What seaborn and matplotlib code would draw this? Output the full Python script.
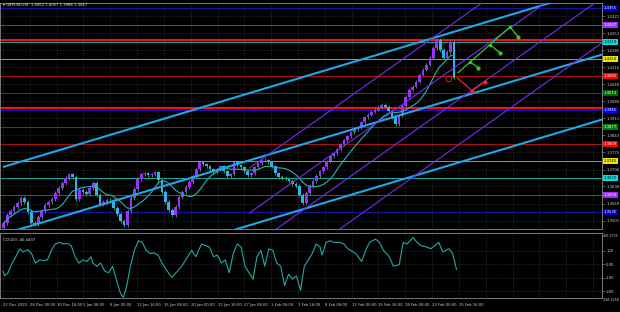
import numpy as np
import pandas as pd
import matplotlib
matplotlib.use("Agg")
import matplotlib.pyplot as plt
import seaborn as sns

# ---------------- data ----------------
title_text = "GBPUSD,H4  1.4062 1.4067 1.3988 1.4047"
cci_title = "CCI(20) -40.4437"

# closes of 8-hour candles (each = 2 H4 bars)
closes = [1.3491, 1.3523, 1.3539, 1.3555, 1.3571, 1.3591, 1.3575, 1.3535, 1.3491, 1.3487,
          1.3515, 1.3539, 1.3563, 1.3575, 1.3587, 1.3611, 1.3631, 1.3651, 1.3671, 1.3687,
          1.3675, 1.3587, 1.3623, 1.3615, 1.3607, 1.3631, 1.3651, 1.3603, 1.3567, 1.3575,
          1.3583, 1.3583, 1.3551, 1.3527, 1.3499, 1.3483, 1.3539, 1.3591, 1.3627, 1.3667,
          1.3687, 1.3691, 1.3683, 1.3687, 1.3695, 1.3663, 1.3615, 1.3575, 1.3543, 1.3523,
          1.3555, 1.3595, 1.3615, 1.3635, 1.3655, 1.3679, 1.3707, 1.3735, 1.3727, 1.3719,
          1.3707, 1.3695, 1.3707, 1.3719, 1.3699, 1.3679, 1.3687, 1.3735, 1.3723, 1.3715,
          1.3699, 1.3683, 1.3691, 1.3715, 1.3731, 1.3743, 1.3743, 1.3735, 1.3719, 1.3691,
          1.3675, 1.3671, 1.3667, 1.3659, 1.3647, 1.3639, 1.3603, 1.3571, 1.3611, 1.3639,
          1.3659, 1.3679, 1.3699, 1.3715, 1.3739, 1.3759, 1.3771, 1.3787, 1.3807, 1.3823,
          1.3839, 1.3855, 1.3867, 1.3875, 1.3895, 1.3915, 1.3927, 1.3939, 1.3947, 1.3955,
          1.3967, 1.3959, 1.3943, 1.3915, 1.3887, 1.3923, 1.3963, 1.3999, 1.4027, 1.4039,
          1.4059, 1.4087, 1.4107, 1.4127, 1.4155, 1.4195, 1.4227, 1.4187, 1.4155, 1.4179,
          1.4219, 1.4075]
first_open = 1.3470
bars_per_candle = 2.05

# CCI values (bar, value)
cci_bar = [0, 1, 3, 5, 7.6, 10, 12, 14.7, 17, 19.4, 21.8, 24, 26.5, 28.9, 31.2, 33.6, 36, 38.3, 40.7, 43,
           45.4, 47.7, 50, 52.5, 53.6, 56, 58.3, 60.7, 63, 65.4, 67.8, 70.1, 71.8, 73.7, 76, 78.4, 80.8,
           83.1, 85.5, 87.8, 90.2, 92.5, 94.9, 97.3, 100.8, 103.2, 106.7, 109, 112.6, 115, 118.5, 120.8,
           123.2, 125.6, 127.9, 130.3, 132.6, 135, 137.4, 139.7, 142.1, 144.4, 149.2, 151.5, 153.9, 156.2,
           158.6, 161, 163.3, 165.7, 168, 170.4, 172.7, 175.1, 177.5, 179.8, 182.2, 184.5, 186.9, 189.2,
           190.4, 192.8, 195.1, 197.5, 201, 203.4, 205.8, 210.5, 214, 216.4, 218.7, 222.3, 224.6, 227,
           230.5, 232.9, 236.4, 238.8, 241.1, 244.7, 247, 249.4, 252.9, 255.3, 257.6, 260, 262.4, 265.9,
           268.3, 270.6]
cci_val = [-52, -87, -64, -5, 54, 113, 89, 106, 78, 7, 31, 26, 31, 101, 148, 160, 148, 153, 136, 54,
           7, 31, 19, 54, 7, -16, 7, -52, -64, -16, -122, -216, -245, -169, -16, 101, 172,
           160, 101, 78, 82, 66, 7, -40, -99, -64, -16, 31, 101, 54, 148, 136,
           125, 54, 66, 7, 31, -64, 78, 148, 125, -16, -111, 54, 101, -16,
           113, 101, 7, -16, -158, -75, -111, -87, -193, -16, 31, 78, 148, 125,
           66, 160, 172, 160, 160, 148, 113, 78, 19, 101, 160, 184, 160, 101,
           54, -16, -5, 160, 148, 195, 160, 136, 125, 113, 136, 160, 89, 113,
           78, -40]

# time labels every 16 H4 bars
date_labels = ["22 Dec 2020", "28 Dec 00:00", "30 Dec 16:00", "5 Jan 08:00", "8 Jan 00:00",
               "12 Jan 16:00", "15 Jan 08:00", "20 Jan 00:00", "22 Jan 16:00", "27 Jan 08:00",
               "1 Feb 00:00", "3 Feb 16:00", "8 Feb 08:00", "11 Feb 00:00", "15 Feb 16:00",
               "18 Feb 08:00", "23 Feb 00:00", "25 Feb 16:00"]
bars_per_label = 16

# Murrey-style horizontal levels
mm_prices = [1.4355, 1.4287, 1.4219, 1.4150, 1.4082, 1.4014, 1.3945,
             1.3877, 1.3809, 1.3740, 1.3672, 1.3604, 1.3535]
mm_line_colors = ["#1414a0", "#7a28d8", "#13a8a8", "#a8a800", "#b01010", "#0a6a0a", "#1a1ad0",
                  "#0a6a0a", "#b01010", "#a8a800", "#13a8a8", "#7a28d8", "#1414a0"]
mm_box_colors = ["#0000c8", "#9a30ff", "#00e0e0", "#e8e800", "#ff0000", "#006400", "#0000ff",
                 "#008000", "#ff0000", "#e8e800", "#00e0e0", "#9a30ff", "#0000c8"]
mm_text_colors = ["#ffffff", "#ffffff", "#000000", "#000000", "#ffffff", "#ffffff", "#ffffff",
                  "#ffffff", "#ffffff", "#000000", "#000000", "#ffffff", "#ffffff"]
red_levels = [1.4228, 1.3953]

# trend channel lines (bar, price) pairs
blue_lines = [((0, 1.3716), (360, 1.4443)),
              ((0, 1.3446), (360, 1.4173)),
              ((0, 1.3185), (360, 1.3912))]
purple_slope = 0.000478
purple_start = 147
purple_prices_at_start = [1.3712, 1.3531, 1.3390, 1.3209]

# forecast paths (bar, price)
green_main = ([271.5, 302.5], [1.4095, 1.4279])
green_branches = [([278.6, 283.4], [1.4139, 1.4115]),
                  ([290.6, 296.5], [1.4207, 1.4175]),
                  ([302.5, 307.3], [1.4279, 1.4239])]
red_path = ([270.9, 279.8, 287.6], [1.4075, 1.4023, 1.4059])
red_marker = (266, 1.4070)

price_ticks = [1.4321, 1.4253, 1.4185, 1.4116, 1.4048, 1.3980, 1.3911,
               1.3843, 1.3775, 1.3706, 1.3638, 1.3569, 1.3501]
cci_ticks = [100, 0, -100, -200]
cci_tick_labels = ["100", "0.00", "-100", "-200"]
cci_max_label = "266.5735"
cci_min_label = "-298.1558"

# ---------------- styling ----------------
sns.set_theme(style="dark")
plt.rcParams['font.family'] = ['DejaVu Sans']
BG = "#000000"
GRID = "#3c3c3c"
FS = 2.7
TXT = "#d0d0d0"

W, H = 620, 312
fig = plt.figure(figsize=(6.2, 3.12), dpi=100, facecolor=BG)
ax = fig.add_axes([0, 1 - 229 / H, 602 / W, 226 / H])
ax2 = fig.add_axes([0, 1 - 298 / H, 602 / W, 65 / H])

px_per_bar = 1.676
x0 = -3 / px_per_bar
x1 = (602 - 3) / px_per_bar
for a in (ax, ax2):
    a.set_facecolor(BG)
    a.set_xlim(x0, x1)
    for s in a.spines.values():
        s.set_color("#8c8c8c")
        s.set_linewidth(0.6)
    a.grid(False)
    for j in range(len(date_labels) + 5):
        a.axvline(j * bars_per_label, color=GRID, lw=0.5, ls=(0, (1, 1.5)), zorder=0)

ax.set_ylim(1.3467, 1.4375)

# horizontal grid
for p in price_ticks:
    ax.axhline(p, color=GRID, lw=0.5, ls=(0, (1, 1.5)), zorder=0)

# Murrey levels
for p, c in zip(mm_prices, mm_line_colors):
    ax.axhline(p, color=c, lw=0.7, zorder=1)
for p in red_levels:
    ax.axhline(p, color="#ff1010", lw=1.5, zorder=2)

# candles
df = pd.DataFrame({"close": closes})
df["open"] = df["close"].shift(1).fillna(first_open)
df["bar"] = 0.5 + bars_per_candle * np.arange(len(df))
up = df["close"] >= df["open"]
body_lo = np.minimum(df["open"], df["close"])
body_h = np.maximum(np.abs(df["close"] - df["open"]), 0.00025)
wick = 0.0007
ax.vlines(df["bar"], body_lo - wick, body_lo + body_h + wick, color="#2fbf3a", lw=0.6, zorder=3)
ax.bar(df["bar"][up], body_h[up], bottom=body_lo[up], width=1.6, color="#9b30ff", lw=0, zorder=4)
ax.bar(df["bar"][~up], body_h[~up], bottom=body_lo[~up], width=1.6, color="#2fb3ea", lw=0, zorder=4)

# moving average
df["ma"] = df["close"].rolling(10, min_periods=1).mean()
sns.lineplot(data=df, x="bar", y="ma", ax=ax, color="#27b5b0", lw=0.8, zorder=5, legend=False)

# channels
for (xa, ya), (xb, yb) in blue_lines:
    ax.plot([xa, xb], [ya, yb], color="#1fa8e8", lw=1.5, zorder=6, solid_capstyle="butt")
for p0 in purple_prices_at_start:
    ax.plot([purple_start, 400], [p0, p0 + purple_slope * (400 - purple_start)],
            color="#7a2df0", lw=0.8, zorder=6)

# forecast arrows
ax.plot(*green_main, color="#33cc22", lw=0.9, zorder=7)
for bx, by in green_branches:
    ax.plot(bx, by, color="#33cc22", lw=0.9, zorder=7)
    ax.plot(bx[-1], by[-1], marker="o", ms=2, color="#33cc22", zorder=7)
    ax.plot(bx[0], by[0], marker="o", ms=1.5, color="#33cc22", zorder=7)
ax.plot(*red_path, color="#ff2020", lw=0.9, zorder=7)
ax.plot(red_path[0][1:], red_path[1][1:], ls="none", marker="o", ms=2, color="#ff2020", zorder=7)
ax.scatter([red_marker[0]], [red_marker[1]], s=18, facecolors="none", edgecolors="#ff2020", lw=0.6, zorder=7)

# price axis on right
ax.yaxis.tick_right()
ax.set_yticks(price_ticks)
ax.set_yticklabels([f"{p:.4f}" for p in price_ticks], fontsize=FS, color=TXT)
ax.tick_params(axis="y", length=2, width=0.4, color="#8c8c8c", pad=1)
ax.set_xticks([])
ax.set_xlabel("")
ax.set_ylabel("")
for p, bc, tc in zip(mm_prices, mm_box_colors, mm_text_colors):
    ax.text(1.003, p, f"{p:.4f}", transform=ax.get_yaxis_transform(), fontsize=FS, color=tc,
            va="center", ha="left", clip_on=False, zorder=10,
            bbox=dict(boxstyle="square,pad=0.25", fc=bc, ec="none"))

fig.text(3 / W, 1 - 5.5 / H, "\u25be " + title_text, fontsize=FS, color="#e8e8e8", va="center", ha="left")

# CCI panel
cci = pd.DataFrame({"bar": cci_bar, "cci": cci_val})
sns.lineplot(data=cci, x="bar", y="cci", ax=ax2, color="#23a9a4", lw=0.8, legend=False)
ax2.set_ylim(-250, 229)
for v in cci_ticks:
    ax2.axhline(v, color=GRID, lw=0.5, ls=(0, (1, 1.5)), zorder=0)
ax2.yaxis.tick_right()
ax2.set_yticks(cci_ticks)
ax2.set_yticklabels(cci_tick_labels, fontsize=FS, color=TXT)
ax2.tick_params(axis="y", length=2, width=0.4, color="#8c8c8c", pad=1)
ax2.text(1.002, 0.99, cci_max_label, transform=ax2.transAxes, fontsize=2.3, color=TXT,
         va="top", ha="left", clip_on=False)
ax2.text(1.002, -0.005, cci_min_label, transform=ax2.transAxes, fontsize=2.3, color=TXT,
         va="top", ha="left", clip_on=False)
ax2.text(3 / 602, 0.93, cci_title, transform=ax2.transAxes, fontsize=FS, color="#e0e0e0",
         va="top", ha="left")
ax2.set_xlabel("")
ax2.set_ylabel("")
ax2.set_xticks([j * bars_per_label for j in range(len(date_labels))])
ax2.set_xticklabels(date_labels, fontsize=FS, color=TXT, ha="left")
ax2.tick_params(axis="x", length=2, width=0.4, color="#8c8c8c", pad=1.5)

fig.savefig("out.png", dpi=100, facecolor=BG)
